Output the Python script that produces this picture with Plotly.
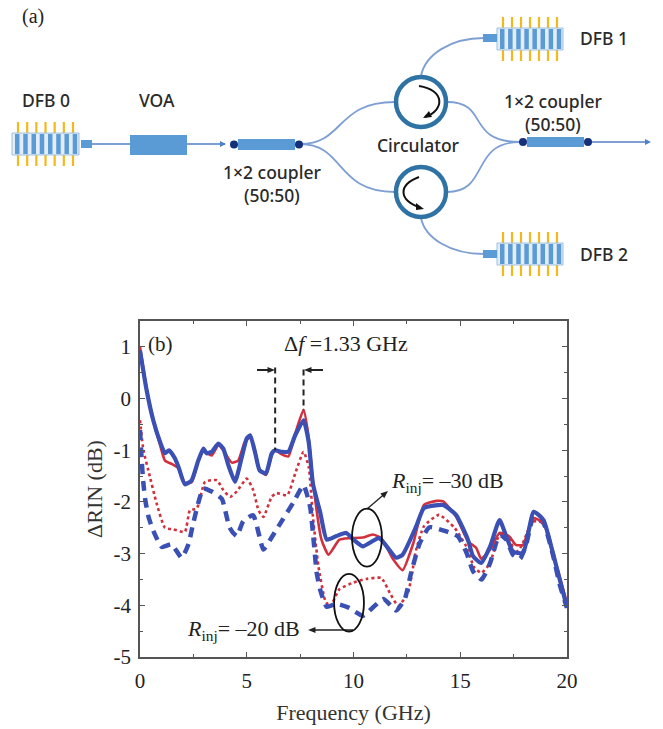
import math
import plotly.graph_objects as go

# ---------- chart data ----------
f_b30 = [0,0.31,0.62,0.94,1.17,1.36,1.64,1.8,2.1,2.42,2.73,2.97,3.12,3.36,3.67,3.9,4.14,4.45,4.77,5.0,5.16,5.4,5.6,5.9,6.17,6.33,6.64,6.95,7.27,7.66,7.9,8.1,8.44,8.75,9.2,9.66,10,10.44,11.2,12,12.3,12.94,13.3,14.2,14.8,15.36,15.6,15.98,16.4,16.84,17.16,17.47,17.94,18.44,18.9,19.34,19.66,20]
v_b30 = [0.93,0.16,-0.42,-0.84,-1.06,-1.0,-1.16,-1.32,-1.66,-1.58,-1.2,-0.97,-1.06,-1.03,-0.87,-0.97,-1.29,-1.61,-1.13,-0.77,-0.71,-1.06,-1.39,-1.45,-1.06,-1.0,-1.03,-1.03,-0.71,-0.42,-0.84,-1.65,-2.2,-2.73,-2.66,-2.6,-2.73,-2.86,-2.7,-3.08,-3.02,-2.47,-2.12,-2.06,-2.25,-2.73,-3.05,-3.18,-2.86,-2.35,-2.67,-2.96,-2.99,-2.19,-2.35,-2.99,-3.5,-4.04]

f_r30 = [0,0.31,0.62,0.94,1.17,1.5,1.8,2.1,2.42,2.73,2.97,3.36,3.67,3.9,4.3,4.6,4.9,5.16,5.4,5.6,5.9,6.17,6.33,6.64,6.95,7.27,7.66,7.9,8.1,8.5,8.83,9.34,9.8,10.44,10.9,11.3,11.84,12.3,12.8,13.3,13.9,14.2,14.8,15.36,15.75,15.98,16.4,16.84,17.3,17.6,17.94,18.4,18.9,19.34,19.66,20]
v_r30 = [1.0,0.2,-0.42,-0.9,-1.2,-1.27,-1.35,-1.63,-1.62,-1.2,-1.02,-1.1,-0.9,-1.0,-1.24,-1.2,-0.85,-0.75,-1.05,-1.37,-1.48,-1.1,-1.0,-1.08,-1.12,-0.68,-0.22,-0.75,-1.6,-2.73,-3.02,-2.73,-2.7,-2.69,-2.63,-2.7,-3.1,-3.32,-2.8,-2.06,-1.98,-1.99,-2.28,-2.76,-2.89,-3.1,-2.92,-2.6,-2.67,-2.83,-2.83,-2.31,-2.41,-2.99,-3.45,-3.97]

f_r20 = [0,0.16,0.39,0.78,1.17,1.56,2.1,2.34,2.66,3.05,3.6,3.9,4.22,4.53,5,5.3,5.55,5.78,6.17,6.4,6.9,7.27,7.66,7.9,8.1,8.36,8.67,8.9,9.34,10,10.6,11.3,11.7,12.1,12.55,12.94,13.3,14,14.73,15.28,15.67,16,16.4,16.84,17.3,17.55,17.86,18.4,18.9,19.34,19.66,20]
v_r20 = [-0.42,-1.0,-1.39,-2.03,-2.5,-2.53,-2.58,-2.16,-2.13,-1.61,-1.58,-1.77,-1.9,-1.8,-1.55,-1.77,-2.16,-2.29,-1.9,-1.83,-1.87,-1.45,-1.03,-1.32,-2.29,-3.25,-3.9,-4.03,-3.69,-3.56,-3.49,-3.47,-3.76,-4.01,-3.76,-2.92,-2.47,-2.25,-2.5,-2.86,-3.28,-3.37,-3.18,-2.63,-2.67,-3.0,-2.86,-2.38,-2.41,-3.0,-3.5,-3.93]

f_b20 = [0,0.08,0.16,0.25,0.4,0.625,1.02,1.48,1.95,2.27,2.5,2.97,3.36,3.83,4.2,4.53,4.84,5.3,5.78,6.1,6.4,6.7,7.2,7.66,7.97,8.1,8.28,8.44,8.75,9.2,9.8,10.44,11.4,12,12.4,12.7,13.1,13.56,14.34,14.9,15.3,15.6,16,16.4,16.84,17.16,17.47,17.8,18.1,18.44,18.9,19.34,19.66,20]
v_b20 = [-0.61,-1.2,-1.65,-1.97,-2.29,-2.56,-2.87,-2.82,-3.08,-2.82,-2.4,-1.74,-1.8,-1.94,-2.5,-2.66,-2.37,-2.26,-2.92,-2.73,-2.53,-2.33,-2.0,-1.68,-2.1,-2.6,-3.38,-3.7,-4.03,-3.97,-4.05,-4.2,-3.88,-4.1,-3.88,-3.37,-2.8,-2.49,-2.57,-2.67,-2.99,-3.34,-3.5,-3.18,-2.63,-2.73,-3.02,-3.1,-2.8,-2.28,-2.41,-3.02,-3.6,-4.05]

x_ticks = [0, 5, 10, 15, 20]
y_ticks = [-5, -4, -3, -2, -1, 0, 1]
y_labels = ["-5", "-4", "-3", "-2", "-1", "0", "1"]

# ---------- schematic geometry (page pixels) ----------
STRIPE = "#5b9bd5"; TOOTH = "#f4b81c"; FIBER = "#7d9fd3"; RING = "#2f73a5"; NODE = "#14307a"
dfb_bodies = [(12, 133, 79, 155), (497, 28, 563, 50), (497, 243, 563, 265)]
voa_box = (130, 135, 187, 155)
coupler_boxes = [(238, 139, 295, 150), (527, 137, 584, 147)]
circ_centers = [(421, 102), (421, 192)]
fiber_paths = [
    "M 92 144 L 130 144", "M 187 144 L 225 144",
    "M 300 144 C 345 144, 335 102, 395 102", "M 300 144 C 345 144, 335 192, 395 192",
    "M 421 76 C 425 55, 450 38, 484 38", "M 421 218 C 425 238, 450 254, 484 254",
    "M 447 102 C 490 102, 465 142, 520 142", "M 447 192 C 490 192, 470 142, 520 142",
    "M 589 142 L 648 142",
]
circ_arrows = ["M 419 86 C 445 90, 445 110, 425 117", "M 419 177 C 398 185, 398 200, 421 208"]
schem_labels = [
    (46, 100, "DFB 0"), (157, 100, "VOA"), (272, 183, "1×2 coupler<br>(50:50)"),
    (418, 145, "Circulator"), (553, 112, "1×2 coupler<br>(50:50)"),
    (604, 38, "DFB 1"), (604, 254, "DFB 2"),
]

fig = go.Figure()
series = [
    (f_r20, v_r20, "#d2303c", 2.6, "3px,3px"),
    (f_b20, v_b20, "#3a50b4", 4.5, "10px,7px"),
    (f_r30, v_r30, "#d2303c", 2.6, "solid"),
    (f_b30, v_b30, "#3a50b4", 4.2, "solid"),
]
for fx, vy, col, w, dash in series:
    fig.add_trace(go.Scatter(x=fx, y=vy, mode="lines", showlegend=False, hoverinfo="skip",
                             line=dict(color=col, width=w, dash=dash, shape="spline", smoothing=0.5)))

shapes, annos = [], []
def px_shape(**kw):
    shapes.append(dict(xref="x2", yref="y2", **kw))
def px_rect(b, **kw):
    px_shape(type="rect", x0=b[0], y0=b[1], x1=b[2], y1=b[3], **kw)
def px_arrow(x0, y0, x1, y1, w, head):
    L = math.hypot(x1 - x0, y1 - y0); ux, uy = (x1 - x0) / L, (y1 - y0) / L
    px_shape(type="line", x0=x0, y0=y0, x1=x1 - ux * head, y1=y1 - uy * head, line=dict(color="#222222", width=w))
    bx, by = x1 - ux * head * 1.5, y1 - uy * head * 1.5
    hw = head * 0.6
    px_shape(type="path", path=f"M {x1} {y1} L {bx - uy * hw} {by + ux * hw} L {bx + uy * hw} {by - ux * hw} Z",
             fillcolor="#222222", line=dict(width=0))

# schematic: fibres
for p in fiber_paths:
    px_shape(type="path", path=p, line=dict(color=FIBER, width=1.8))
# DFB lasers
for b in dfb_bodies:
    x0, y0, x1, y1 = b
    for i in range(7):
        tx = x0 + 6 + i * (x1 - x0 - 12) / 6
        px_shape(type="line", x0=tx, x1=tx, y0=y0 - 11, y1=y1 + 11, line=dict(color=TOOTH, width=2.2))
    px_rect(b, fillcolor="#e4edf7", line=dict(color="#9dbfe0", width=1))
    for i in range(8):
        sx = x0 + 3 + i * (x1 - x0 - 6) / 7.4
        px_rect((sx, y0 + 1, sx + 4.5, y1 - 1), fillcolor=STRIPE, line=dict(width=0))
# connectors
for (cx0, cy, cx1) in [(81, 144, 92), (483, 38, 497), (483, 254, 497)]:
    px_rect((cx0, cy - 4, cx1, cy + 4), fillcolor=STRIPE, line=dict(width=0))
# VOA and couplers
px_rect(voa_box, fillcolor=STRIPE, line=dict(width=0))
for b in coupler_boxes:
    px_rect(b, fillcolor=STRIPE, line=dict(width=0))
    my = (b[1] + b[3]) / 2
    for nx in (b[0] - 4, b[2] + 4):
        px_shape(type="circle", x0=nx - 4, x1=nx + 4, y0=my - 4, y1=my + 4, fillcolor=NODE, line=dict(width=0))
# circulators
for cx, cy in circ_centers:
    px_shape(type="circle", x0=cx - 25, x1=cx + 25, y0=cy - 25, y1=cy + 25, fillcolor="white",
             line=dict(color=RING, width=4.5))
for p in circ_arrows:
    px_shape(type="path", path=p, line=dict(color="#111111", width=2))
for tip, a, b2 in [((423, 118), (429, 111), (432, 117)), ((424, 209), (416, 203), (416, 210))]:
    px_shape(type="path", path=f"M {tip[0]} {tip[1]} L {a[0]} {a[1]} L {b2[0]} {b2[1]} Z",
             fillcolor="#111111", line=dict(width=0))
# fibre arrowheads
for tx, ty in [(226, 144), (651, 142)]:
    px_shape(type="path", path=f"M {tx} {ty} L {tx-6} {ty-3} L {tx-6} {ty+3} Z", fillcolor="#4f80c8", line=dict(width=0))

for x, y, t in schem_labels:
    annos.append(dict(xref="x2", yref="y2", x=x, y=y, text=t, showarrow=False,
                      font=dict(family="Noto Sans, Liberation Sans, sans-serif", size=17.5, weight=500, color="#2a2a2a")))
annos.append(dict(xref="x2", yref="y2", x=33, y=16, text="(a)", showarrow=False,
                  font=dict(family="Liberation Serif, serif", size=20, color="#222222")))

# chart annotations
DF1, DF2 = 6.33, 7.66
for xv, ytop, ybot in [(DF1, 0.6, -1.0), (DF2, 0.56, -0.22)]:
    shapes.append(dict(type="line", xref="x", yref="y", x0=xv, x1=xv, y0=ytop, y1=ybot,
                       line=dict(color="#222222", width=2, dash="6px,4px")))
px_arrow(257, 370, 275, 370, 2, 5)
px_arrow(323, 370, 304, 370, 2, 5)
px_arrow(367, 509, 388, 491, 1.3, 5)
px_arrow(353, 630, 308, 630, 1.3, 5)
for xc, yc in [(10.63, -2.69), (9.79, -3.95)]:
    shapes.append(dict(type="circle", xref="x", yref="y", x0=xc - 0.7, x1=xc + 0.7, y0=yc - 0.56, y1=yc + 0.56,
                       line=dict(color="#111111", width=1.8)))
SERIF = "Liberation Serif, Times New Roman, serif"
for x, y, t, s in [
    (0.3, 1.06, "(b)", 21),
    (9.65, 1.06, "Δ<i>f</i> =1.33 GHz", 22),
    (14.4, -1.62, "<i>R</i><sub>inj</sub>= –30 dB", 22),
    (4.83, -4.48, "<i>R</i><sub>inj</sub>= –20 dB", 22),
]:
    annos.append(dict(xref="x", yref="y", x=x, y=y, text=t, showarrow=False,
                      xanchor="left" if t == "(b)" else "center",
                      font=dict(family=SERIF, size=s, color="#222222")))

axis_line = dict(showline=True, linecolor="#555555", linewidth=1.6, mirror="all", ticks="inside",
                 tickcolor="#555555", ticklen=5, tickwidth=1.4, showgrid=False, zeroline=False, automargin=False,
                 tickfont=dict(family=SERIF, size=21, color="#222222"))
fig.update_layout(
    width=663, height=729, margin=dict(l=0, r=0, t=0, b=0), autosize=False,
    paper_bgcolor="white", plot_bgcolor="rgba(0,0,0,0)",
    xaxis=dict(domain=[140 / 663, 567 / 663], range=[0, 20], tickvals=x_ticks, ticklabelstandoff=4,
               title=dict(text="Frequency (GHz)", font=dict(family=SERIF, size=22, color="#333333"), standoff=13),
               minor=dict(dtick=2.5, ticks="inside", ticklen=3, tickcolor="#555555", showgrid=False), **axis_line),
    yaxis=dict(domain=[1 - 657 / 729, 1 - 321 / 729], range=[-5, 1.5], tickvals=y_ticks, ticktext=y_labels, ticklabelstandoff=3,
               title=dict(text="ΔRIN (dB)", font=dict(family=SERIF, size=22, color="#333333"), standoff=5),
               minor=dict(dtick=0.5, ticks="inside", ticklen=3, tickcolor="#555555", showgrid=False), **axis_line),
    xaxis2=dict(domain=[0, 1], range=[0, 663], visible=False, anchor="y2", fixedrange=True, automargin=False),
    yaxis2=dict(domain=[0, 1], range=[729, 0], visible=False, anchor="x2", fixedrange=True, automargin=False),
    shapes=shapes, annotations=annos,
)
fig.add_trace(go.Scatter(x=[0], y=[0], xaxis="x2", yaxis="y2", mode="markers", marker=dict(opacity=0),
                         showlegend=False, hoverinfo="skip"))
fig.write_html("out.html", config=dict(displayModeBar=False),
               post_script="document.body.style.margin='0';document.body.style.overflow='hidden';")
